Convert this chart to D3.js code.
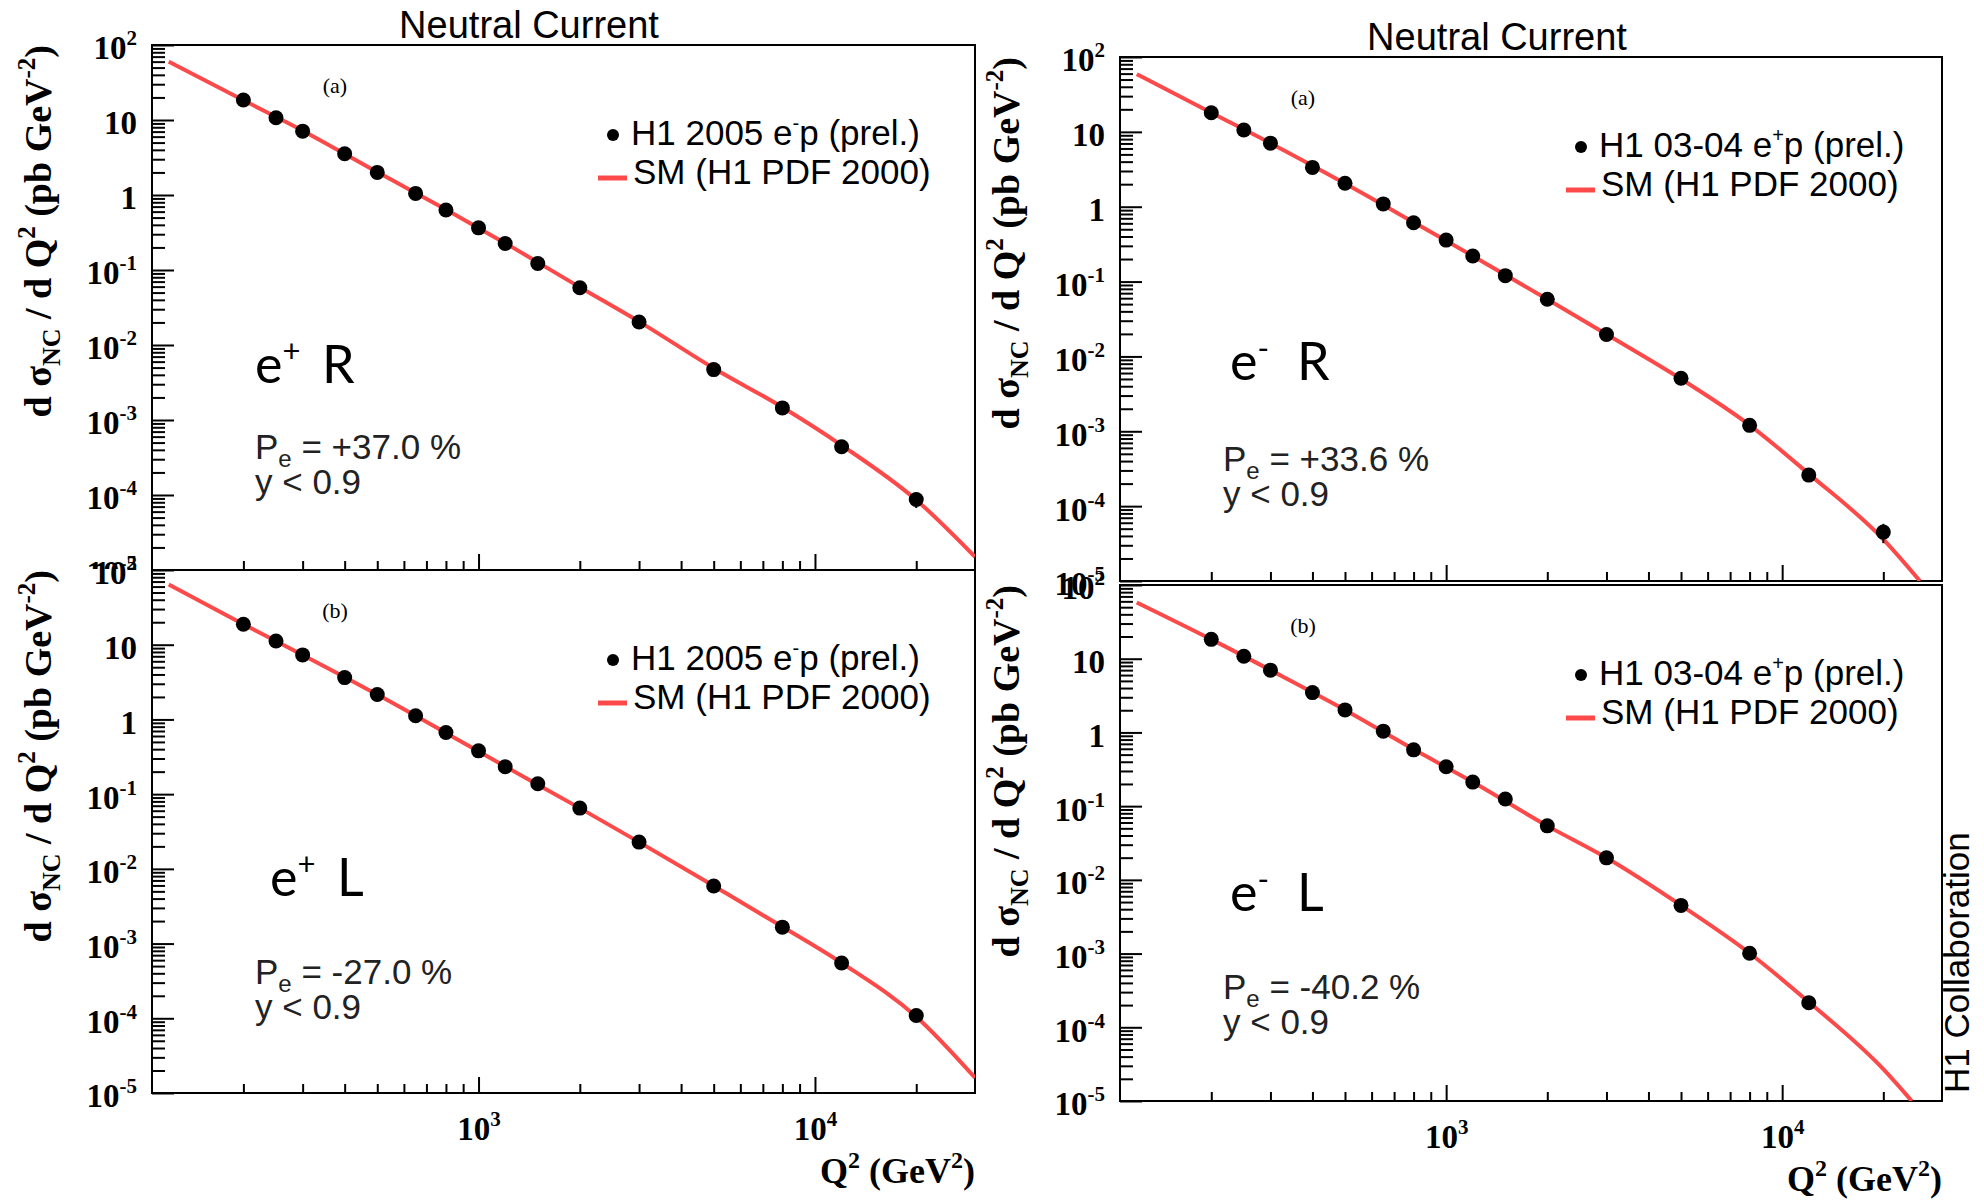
<!DOCTYPE html>
<html>
<head>
<meta charset="utf-8">
<script src="https://cdnjs.cloudflare.com/ajax/libs/d3/7.8.5/d3.min.js"></script>
<style>
  body { margin: 0; background: #fff; }
  svg { display: block; }
</style>
</head>
<body>
<svg width="1984" height="1200"></svg>
<script>

var q2 = [200, 250, 300, 400, 500, 650, 800, 1000, 1200, 1500, 2000, 3000, 5000, 8000, 12000, 20000];

var xsecTL = [18.5, 10.7, 7.1, 3.55, 2.0, 1.05, 0.63, 0.365, 0.226, 0.122, 0.058, 0.0203, 0.0047, 0.00145, 0.00044, 8.7e-5];
var errTL  = [0.5, 0.3, 0.2, 0.1, 0.06, 0.03, 0.02, 0.011, 0.007, 0.004, 0.002, 0.0007, 0.0002, 0.00007, 0.00003, 2.0e-5];
var xsecBL = [18.8, 11.2, 7.3, 3.63, 2.16, 1.12, 0.667, 0.38, 0.233, 0.138, 0.065, 0.0228, 0.0059, 0.00166, 0.00055, 1.09e-4];
var errBL  = [0.5, 0.3, 0.2, 0.1, 0.06, 0.03, 0.02, 0.011, 0.007, 0.004, 0.002, 0.0007, 0.0002, 0.00006, 0.00002, 0.9e-5];
var xsecTR = [18.0, 10.6, 7.06, 3.35, 2.06, 1.09, 0.61, 0.358, 0.22, 0.12, 0.058, 0.0196, 0.0051, 0.0012, 0.00026, 4.5e-5];
var errTR  = [0.4, 0.25, 0.15, 0.08, 0.05, 0.03, 0.015, 0.009, 0.006, 0.003, 0.0015, 0.0006, 0.0002, 0.00006, 0.00002, 1.3e-5];
var xsecBR = [18.3, 10.8, 7.0, 3.47, 2.02, 1.04, 0.58, 0.342, 0.212, 0.125, 0.054, 0.0199, 0.0045, 0.00101, 0.000215];
var errBR  = [0.4, 0.25, 0.15, 0.08, 0.05, 0.03, 0.015, 0.009, 0.006, 0.003, 0.0015, 0.0006, 0.0002, 0.00005, 0.00003];

// SM (H1 PDF 2000) curve, last value sits where the line leaves the frame
var smQ2 = [120, 200, 300, 500, 800, 1200, 2000, 3000, 5000, 8000, 12000, 20000];
var smTL = [60, 18.3, 7.2, 2.02, 0.64, 0.228, 0.059, 0.0205, 0.0049, 0.00148, 0.00046, 8.6e-5, 1.5e-5];
var smBL = [64, 18.8, 7.3, 2.15, 0.66, 0.235, 0.065, 0.0228, 0.0059, 0.00168, 0.00055, 1.05e-4, 1.6e-5];
var smTR = [59, 18.0, 7.05, 2.04, 0.62, 0.22, 0.058, 0.0198, 0.0050, 0.00121, 0.00027, 3.6e-5, 1.0e-5];
var smBR = [58, 18.3, 7.0, 2.02, 0.59, 0.213, 0.054, 0.0199, 0.0045, 0.00101, 0.00022, 2.7e-5, 1.0e-5];
var smEndQ2 = {TL: 29900, BL: 29900, TR: 25700, BR: 24300};

var yExp = [-5, -4, -3, -2, -1, 0, 1, 2];
var xExp = [3, 4];
var peText = {TL: '+37.0 %', BL: '-27.0 %', TR: '+33.6 %', BR: '-40.2 %'};
var beam = {TL: ['+', 'R'], BL: ['+', 'L'], TR: ['-', 'R'], BR: ['-', 'L']};
var legendData = {TL: ['H1 2005 e', '-', 'p (prel.)'], BL: ['H1 2005 e', '-', 'p (prel.)'],
                  TR: ['H1 03-04 e', '+', 'p (prel.)'], BR: ['H1 03-04 e', '+', 'p (prel.)']};

var RED = '#fc4a4a';
var SANS = '"Liberation Sans", Arial, sans-serif';
var SERIF = '"Liberation Serif", "Times New Roman", serif';

var panels = [
  {key: 'TL', left: 152, top: 45, width: 823, height: 525, xsec: xsecTL, err: errTL, sm: smTL, title: true, tag: '(a)', xlab: false, beamAt: [103, 338]},
  {key: 'TR', left: 1120, top: 57, width: 822, height: 524, xsec: xsecTR, err: errTR, sm: smTR, title: true, tag: '(a)', xlab: false, beamAt: [110, 323]},
  {key: 'BL', left: 152, top: 570, width: 823, height: 523, xsec: xsecBL, err: errBL, sm: smBL, title: false, tag: '(b)', xlab: true, beamAt: [118, 326], cover: [0, 569, 990, 631]},
  {key: 'BR', left: 1120, top: 585, width: 822, height: 516, xsec: xsecBR, err: errBR, sm: smBR, title: false, tag: '(b)', xlab: true, beamAt: [110, 326]}
];

var svg = d3.select('svg');

// raised / lowered piece of text, then back to the baseline
function shifted(t, txt, shift, size) {
  t.append('tspan').attr('dy', shift).attr('font-size', size).text(txt);
  return t.append('tspan').attr('dy', -shift);
}

panels.forEach(function (p) {
  var x = d3.scaleLog().domain([107, 29900]).range([p.left, p.left + p.width]);
  var y = d3.scaleLog().domain([1e-5, 1e2]).range([p.top + p.height, p.top]);

  // the lower-left picture was pasted over the bottom of the upper one
  if (p.cover) {
    svg.append('rect').attr('x', p.cover[0]).attr('y', p.cover[1])
      .attr('width', p.cover[2]).attr('height', p.cover[3]).attr('fill', '#fff');
  }

  var g = svg.append('g');

  var majorsY = yExp.map(function (e) { return Math.pow(10, e); });
  var minorsY = y.ticks().filter(function (v) { return majorsY.indexOf(v) < 0; });
  var majorsX = xExp.map(function (e) { return Math.pow(10, e); });
  var minorsX = x.ticks().filter(function (v) { return majorsX.indexOf(v) < 0 && v < 29000; });

  // y axis, ticks pointing inside like ROOT
  var ya = g.append('g').attr('transform', 'translate(' + p.left + ',0)')
    .call(d3.axisLeft(y).tickValues(majorsY).tickSize(-22).tickPadding(15).tickFormat(''));
  g.append('g').attr('transform', 'translate(' + p.left + ',0)')
    .call(d3.axisLeft(y).tickValues(minorsY).tickSize(-13).tickFormat(''));

  ya.selectAll('.tick text').each(function (d, i) {
    var e = yExp[i];
    var t = d3.select(this).text('').attr('dy', '0.42em')
      .attr('font-family', SERIF).attr('font-weight', 'bold').attr('font-size', 33).attr('fill', '#000');
    if (e === 0) t.append('tspan').text('1');
    else if (e === 1) t.append('tspan').text('10');
    else {
      t.append('tspan').text('10');
      t.append('tspan').attr('dy', -14).attr('font-size', 21).text(String(e));
    }
  });

  var xa = g.append('g').attr('transform', 'translate(0,' + (p.top + p.height) + ')')
    .call(d3.axisBottom(x).tickValues(majorsX).tickSize(-16).tickPadding(24).tickFormat(''));
  g.append('g').attr('transform', 'translate(0,' + (p.top + p.height) + ')')
    .call(d3.axisBottom(x).tickValues(minorsX).tickSize(-9).tickFormat(''));

  if (p.xlab) {
    xa.selectAll('.tick text').each(function (d, i) {
      var t = d3.select(this).text('').attr('dy', '0.71em')
        .attr('font-family', SERIF).attr('font-weight', 'bold').attr('font-size', 33).attr('fill', '#000');
      t.append('tspan').text('10');
      t.append('tspan').attr('dy', -14).attr('font-size', 21).text(String(xExp[i]));
    });
  }

  g.selectAll('.domain').remove();
  g.selectAll('.tick line').attr('stroke', '#000').attr('stroke-width', 2);

  g.append('rect')
    .attr('x', p.left).attr('y', p.top).attr('width', p.width).attr('height', p.height)
    .attr('fill', 'none').attr('stroke', '#000').attr('stroke-width', 2);

  // SM curve
  g.append('clipPath').attr('id', 'clip' + p.key).append('rect')
    .attr('x', p.left).attr('y', p.top).attr('width', p.width).attr('height', p.height);

  var curve = smQ2.map(function (q, i) { return [q, p.sm[i]]; });
  curve.push([smEndQ2[p.key], p.sm[p.sm.length - 1]]);

  g.append('path')
    .datum(curve)
    .attr('clip-path', 'url(#clip' + p.key + ')')
    .attr('fill', 'none').attr('stroke', RED).attr('stroke-width', 4)
    .attr('d', d3.line()
      .x(function (d) { return x(d[0]); })
      .y(function (d) { return y(d[1]); })
      .curve(d3.curveMonotoneX));

  // data points with error bars
  var pts = p.xsec.map(function (v, i) { return {q: q2[i], v: v, e: p.err[i]}; });

  g.selectAll('line.err').data(pts).enter().append('line')
    .attr('class', 'err')
    .attr('x1', function (d) { return x(d.q); })
    .attr('x2', function (d) { return x(d.q); })
    .attr('y1', function (d) { return y(d.v - d.e); })
    .attr('y2', function (d) { return y(d.v + d.e); })
    .attr('stroke', '#000').attr('stroke-width', 2);

  g.selectAll('circle').data(pts).enter().append('circle')
    .attr('cx', function (d) { return x(d.q); })
    .attr('cy', function (d) { return y(d.v); })
    .attr('r', 7.5).attr('fill', '#000');

  // texts
  if (p.title) {
    g.append('text').attr('x', p.left + 377).attr('y', p.top - 7)
      .attr('text-anchor', 'middle').attr('font-family', SANS).attr('font-size', 38)
      .text('Neutral Current');
  }

  g.append('text').attr('x', p.left + 183).attr('y', p.top + 48)
    .attr('text-anchor', 'middle').attr('font-family', SERIF).attr('font-size', 22)
    .text(p.tag);

  // legend
  g.append('circle').attr('cx', p.left + 461).attr('cy', p.top + 90).attr('r', 6).attr('fill', '#000');
  var lt = g.append('text').attr('x', p.left + 479).attr('y', p.top + 100)
    .attr('font-family', SANS).attr('font-size', 35);
  lt.append('tspan').text(legendData[p.key][0]);
  shifted(lt, legendData[p.key][1], -15, 20).text(legendData[p.key][2]);

  g.append('line').attr('x1', p.left + 446).attr('x2', p.left + 475)
    .attr('y1', p.top + 133).attr('y2', p.top + 133)
    .attr('stroke', RED).attr('stroke-width', 5);
  g.append('text').attr('x', p.left + 481).attr('y', p.top + 139)
    .attr('font-family', SANS).attr('font-size', 35)
    .text('SM (H1 PDF 2000)');

  // beam label
  var bt = g.append('text').attr('x', p.left + p.beamAt[0]).attr('y', p.top + p.beamAt[1])
    .attr('font-family', 'Lato, "Open Sans", sans-serif').attr('font-size', 52);
  bt.append('tspan').text('e');
  bt.append('tspan').attr('dy', -21).attr('font-size', 31).text(beam[p.key][0]);
  bt.append('tspan').attr('x', p.left + p.beamAt[0] + 67).attr('dy', 21).text(beam[p.key][1]);

  // polarisation and cut
  var pt = g.append('text').attr('x', p.left + 103).attr('y', p.top + 414)
    .attr('font-family', SANS).attr('font-size', 35).attr('fill', '#222');
  pt.append('tspan').text('P');
  shifted(pt, 'e', 8, 24).text(' = ' + peText[p.key]);
  g.append('text').attr('x', p.left + 103).attr('y', p.top + 449)
    .attr('font-family', SANS).attr('font-size', 35).attr('fill', '#222')
    .text('y < 0.9');

  // axis titles
  var yt = g.append('text')
    .attr('transform', 'translate(' + (p.left - 101) + ',' + p.top + ') rotate(-90)')
    .attr('text-anchor', 'end').attr('font-family', SERIF).attr('font-weight', 'bold').attr('font-size', 38);
  yt.append('tspan').text('d \u03c3');
  shifted(yt, 'NC', 9, 26).text(' / d Q');
  shifted(yt, '2', -16, 25).text(' (pb GeV');
  shifted(yt, '-2', -16, 25).text(')');

  if (p.xlab) {
    var xt = g.append('text').attr('x', p.left + p.width).attr('y', p.top + p.height + 90)
      .attr('text-anchor', 'end').attr('font-family', SERIF).attr('font-weight', 'bold').attr('font-size', 36);
    xt.append('tspan').text('Q');
    shifted(xt, '2', -15, 24).text(' (GeV');
    shifted(xt, '2', -15, 24).text(')');
  }
});

svg.append('text')
  .attr('transform', 'translate(1969,1093) rotate(-90)')
  .attr('font-family', SANS).attr('font-size', 35)
  .text('H1 Collaboration');

</script>
</body>
</html>
